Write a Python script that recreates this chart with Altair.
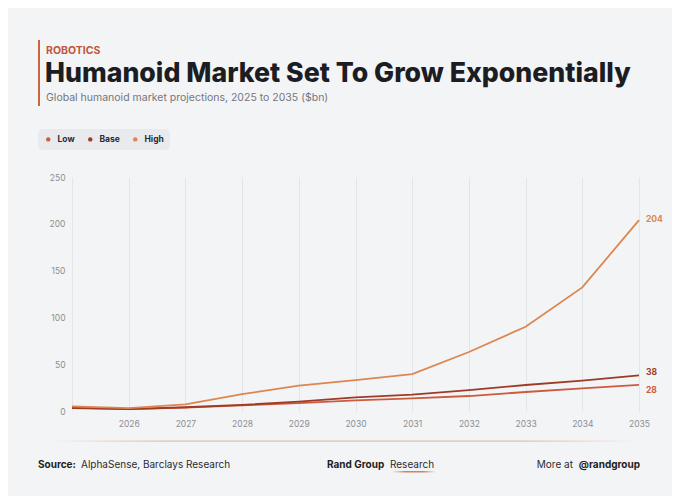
import altair as alt
import pandas as pd

# ---- data ----
years = list(range(2025, 2036))
low = [3.5, 2, 3.5, 6, 8.5, 11.4, 13.5, 16, 20.3, 24.2, 28]
base = [3, 2, 4, 6.5, 10, 14.6, 17.5, 22.4, 27.8, 32.4, 38]
high = [5, 3, 7, 18, 27, 33, 39.5, 63, 90, 132, 204]
series = ["Low", "Base", "High"]
series_colors = ["#cc5a3e", "#9e3b26", "#dc8650"]
label_dy = [5, -3.5, -1]
y_ticks = [0, 50, 100, 150, 200, 250]

rows = []
for name, vals in zip(series, [low, base, high]):
    for yr, v in zip(years, vals):
        rows.append({"year": yr, "value": v, "series": name})
df = pd.DataFrame(rows)

FONT = "Inter"
BG = "#f3f4f6"

color_scale = alt.Scale(domain=series, range=series_colors)

base_chart = alt.Chart(df)

lines = base_chart.mark_line(strokeWidth=1.8).encode(
    x=alt.X("year:Q",
            scale=alt.Scale(domain=[2025, 2035], nice=False, zero=False),
            axis=alt.Axis(values=years, format="d",
                          labelExpr="datum.value == 2025 ? '' : datum.label",
                          grid=True, gridColor="#e4e5e9", gridWidth=1,
                          domain=False, ticks=False, labelColor="#8b8e94",
                          labelFontSize=8.5, labelPadding=8, labelFont=FONT,
                          labelFlush=False, title=None)),
    y=alt.Y("value:Q",
            scale=alt.Scale(domain=[0, 250], nice=False, zero=True),
            axis=alt.Axis(values=y_ticks, grid=False, domain=False, ticks=False,
                          labelColor="#8b8e94", labelFontSize=8.5, labelFont=FONT,
                          labelPadding=7, labelFlush=False, title=None)),
    color=alt.Color("series:N", scale=color_scale, sort=series,
                    legend=alt.Legend(orient="none", legendX=-34, legendY=-48,
                                      direction="horizontal", title=None,
                                      fillColor="#e9eaed", cornerRadius=5,
                                      padding=6, symbolType="circle",
                                      symbolSize=20, symbolStrokeWidth=0,
                                      symbolOpacity=1,
                                      labelFont=FONT, labelFontSize=8.5,
                                      labelFontWeight="bold",
                                      labelColor="#2a2b30", columnPadding=11,
                                      labelOffset=5)),
)

end_labels = []
for name, dy in zip(series, label_dy):
    end_labels.append(
        base_chart.transform_filter(
            (alt.datum.year == 2035) & (alt.datum.series == name)
        ).mark_text(
            align="left", baseline="middle", dx=7, dy=dy, fontSize=8.5,
            fontWeight="bold", font=FONT
        ).encode(
            x="year:Q", y="value:Q",
            text=alt.Text("value:Q", format="d"),
            color=alt.Color("series:N", scale=color_scale, legend=None),
        )
    )

one = alt.Data(values=[{}])


def txt(s, x, y, size, color, weight="normal", align="left"):
    return alt.Chart(one).mark_text(
        text=s, align=align, baseline="alphabetic", fontSize=size,
        fontWeight=weight, font=FONT, color=color
    ).encode(x=alt.value(x), y=alt.value(y))


def box(x, x2, y, y2, fill, radius=0):
    return alt.Chart(one).mark_rect(fill=fill, cornerRadius=radius).encode(
        x=alt.value(x), x2=alt.value(x2), y=alt.value(y), y2=alt.value(y2))


accent_bar = box(-34, -32, -137, -71, "#c9663f")
kicker = txt("ROBOTICS", -26, -123, 10.5, "#c0573a", "bold")
title = txt("Humanoid Market Set To Grow Exponentially", -27, -95, 26.7,
            "#1c1d22", 800)
subtitle = txt("Global humanoid market projections, 2025 to 2035 ($bn)", -26,
               -76, 10.5, "#73767d")

grad = alt.LinearGradient(
    gradient="linear", x1=0, x2=1, y1=0, y2=0,
    stops=[alt.GradientStop(color=BG, offset=0),
           alt.GradientStop(color="#e8bca4", offset=0.2),
           alt.GradientStop(color="#e8bca4", offset=0.8),
           alt.GradientStop(color=BG, offset=1)])
footer_line = box(-24, 568, 263.5, 264.8, grad)

grad2 = alt.LinearGradient(
    gradient="linear", x1=0, x2=1, y1=0, y2=0,
    stops=[alt.GradientStop(color=BG, offset=0),
           alt.GradientStop(color="#d9825a", offset=0.3),
           alt.GradientStop(color="#d9825a", offset=0.7),
           alt.GradientStop(color=BG, offset=1)])
underline = box(320, 364, 294, 295.5, grad2)

src_b = txt("Source:", -34, 291, 10, "#1c1d22", "bold")
src = txt("AlphaSense, Barclays Research", 9, 291, 10, "#2a2b30")
brand_b = txt("Rand Group", 255, 291, 10, "#1c1d22", "bold")
brand = txt("Research", 318, 291, 10, "#2a2b30")
more = txt("More at", 501, 291, 10, "#2a2b30", align="right")
handle = txt("@randgroup", 568, 291, 10, "#1c1d22", "bold", align="right")

chart = alt.layer(
    lines, *end_labels, accent_bar, kicker, title, subtitle, footer_line,
    underline, src_b, src, brand_b, brand, more, handle
).properties(
    width=567, height=234,
    autosize=alt.AutoSizeParams(type="none"),
    padding={"left": 64, "top": 169, "right": 33, "bottom": 85},
).configure(background=BG).configure_view(stroke=None)

chart.save("out.html", embed_options={"renderer": "svg", "actions": False})
